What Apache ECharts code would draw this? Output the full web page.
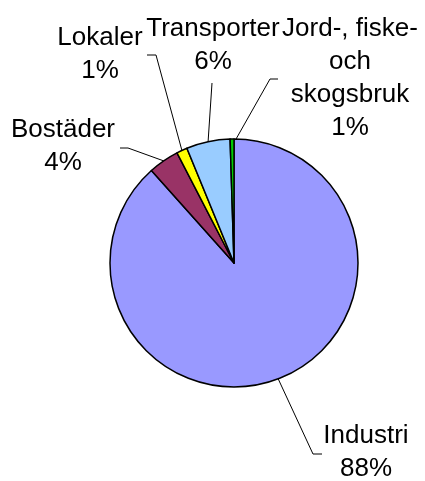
<!DOCTYPE html>
<html>
<head>
<meta charset="utf-8">
<script src="https://cdn.jsdelivr.net/npm/echarts@6/dist/echarts.min.js"></script>
<style>
html, body { margin: 0; padding: 0; background: #fff; }
#chart { width: 425px; height: 481px; }
</style>
</head>
<body>
<div id="chart"></div>
<script>
// sektorer, medurs från klockan tolv
const names = ['Industri', 'Bostäder', 'Lokaler', 'Transporter', 'Jord-, fiske-\noch\nskogsbruk']
const values = [88.4, 4.0, 1.4, 5.7, 0.5]
const colors = ['#9999FF', '#993366', '#FFFF00', '#99CCFF', '#00CC00']

// var etiketterna står (textens mitt / överkant) och linjens knäpunkter
const labelPos = [
  { x: 366, y: 419, bend: [313, 454], end: [322, 454] },
  { x: 63, y: 113, bend: [128, 148], end: [120, 148] },
  { x: 100, y: 21, bend: [156, 55], end: [147, 55] },
  { x: 213, y: 12, bend: [212, 83], end: [212, 83] },
  { x: 350, y: 12, bend: [270, 79], end: [278, 79] }
]

const chart = echarts.init(document.getElementById('chart'))

chart.setOption({
  animation: false,
  series: [
    {
      type: 'pie',
      center: [234, 263],
      radius: 124,
      startAngle: 90,
      clockwise: true,
      avoidLabelOverlap: false,
      data: names.map((n, i) => ({
        name: n,
        value: values[i],
        itemStyle: { color: colors[i] }
      })),
      itemStyle: {
        borderColor: '#000',
        borderWidth: 1.5
      },
      label: {
        show: true,
        position: 'outside',
        color: '#000',
        fontFamily: 'Liberation Sans, Arial, sans-serif',
        fontSize: 26,
        lineHeight: 33,
        align: 'center',
        formatter: p => p.name + '\n' + Math.round(p.percent) + '%'
      },
      labelLine: {
        show: true,
        length: 10,
        length2: 10,
        lineStyle: { color: '#000', width: 1 }
      },
      labelLayout: params => {
        const pos = labelPos[params.dataIndex]
        let start = params.labelLinePoints ? params.labelLinePoints[0] : pos.bend
        // jordbrukets linje börjar strax till höger om den smala sektorn
        if (params.dataIndex === 4) start = [start[0] + 4, start[1]]
        return {
          x: pos.x,
          y: pos.y,
          align: 'center',
          verticalAlign: 'top',
          labelLinePoints: [start, pos.bend, pos.end]
        }
      }
    }
  ]
})
</script>
</body>
</html>
